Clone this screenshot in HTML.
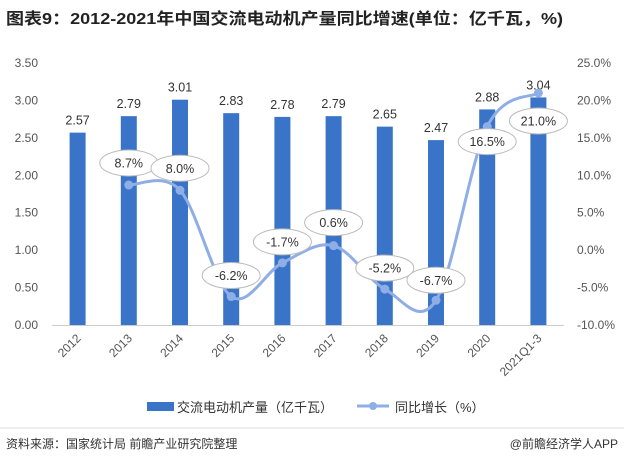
<!DOCTYPE html>
<html><head><meta charset="utf-8"><style>
body{margin:0;background:#fff;font-family:"Liberation Sans","Noto Sans CJK SC",sans-serif;}
#wrap{position:relative;width:624px;height:465px;overflow:hidden;}
</style></head><body>
<div id="wrap">
<svg id="svg" width="624" height="465" xmlns="http://www.w3.org/2000/svg">
<text x="6" y="24" font-size="16" font-weight="bold" fill="#222" textLength="557" lengthAdjust="spacingAndGlyphs" font-family="Liberation Sans,Noto Sans CJK SC,sans-serif">图表9：2012-2021年中国交流电动机产量同比增速(单位：亿千瓦，%)</text>
<g id="plot"></g>
<g>
<rect x="147" y="402" width="27" height="9" fill="#3A74C9"/>
<text x="177" y="412" font-size="13" fill="#333">交流电动机产量（亿千瓦）</text>
<line x1="357" y1="406" x2="389" y2="406" stroke="#8FAEE6" stroke-width="3"/>
<circle cx="373" cy="406" r="4" fill="#8FAEE6"/>
<text x="395" y="412" font-size="13" fill="#333">同比增长（%）</text>
</g>
<line x1="0" y1="428" x2="624" y2="428" stroke="#ddd"/>
<text x="6" y="448" font-size="12" fill="#333">资料来源：国家统计局 前瞻产业研究院整理</text>
<text x="618" y="448" font-size="12" fill="#333" text-anchor="end">@前瞻经济学人APP</text>
</svg>
</div>
<script>
const categories=["2012","2013","2014","2015","2016","2017","2018","2019","2020","2021Q1-3"];
const production=[2.57,2.79,3.01,2.83,2.78,2.79,2.65,2.47,2.88,3.04];
const growth=[null,8.7,8.0,-6.2,-1.7,0.6,-5.2,-6.7,16.5,21.0];
const leftTicks=[0,0.5,1,1.5,2,2.5,3,3.5];
const rightTicks=[-10,-5,0,5,10,15,20,25];
const labelOffsets=[0,-22,-22,-21,-21,-23,-21,-20,15,28];
const NS="http://www.w3.org/2000/svg";
const g=document.getElementById('plot');
const X0=52,X1=564,Y0=325,Y1=63;
const bw=(X1-X0)/categories.length;
const xc=i=>X0+bw*(i+0.5);
const yL=v=>Y0-(v-0)/(3.5-0)*(Y0-Y1);
const yR=v=>Y0-(v+10)/35*(Y0-Y1);
function el(t,a,txt){const e=document.createElementNS(NS,t);for(const k in a)e.setAttribute(k,a[k]);if(txt!=null)e.textContent=txt;g.appendChild(e);return e;}
leftTicks.forEach(v=>{const e=el('text',{x:38,y:yL(v)+4,'font-size':12,fill:'#555','text-anchor':'end'},v.toFixed(2));

});
rightTicks.forEach(v=>{const e=el('text',{x:577,y:yR(v)+4,'font-size':12,fill:'#555'},v.toFixed(1)+'%');

});
production.forEach((v,i)=>{const r=el('rect',{x:xc(i)-8,y:yL(v),width:16,height:Y0-yL(v),fill:'#3A74C9'});


const t=el('text',{x:xc(i),y:yL(v)-8,'font-size':12.5,fill:'#333','text-anchor':'middle'},v.toFixed(2));

});
const ax=el('line',{x1:X0,y1:Y0+0.5,x2:X1,y2:Y0+0.5,stroke:'#ccc'});


categories.forEach((c,i)=>{const t=el('text',{x:0,y:0,'font-size':12,fill:'#555','text-anchor':'end',transform:`translate(${xc(i)+4},${Y0+14}) rotate(-45)`},c);

});
const pts=[];growth.forEach((v,i)=>{if(v!=null)pts.push([xc(i),yR(v),i,v]);});
let d=`M${pts[0][0]},${pts[0][1]}`;
for(let k=0;k<pts.length-1;k++){const p0=pts[Math.max(0,k-1)],p1=pts[k],p2=pts[k+1],p3=pts[Math.min(pts.length-1,k+2)];
const c1=[p1[0]+(p2[0]-p0[0])/6,p1[1]+(p2[1]-p0[1])/6],c2=[p2[0]-(p3[0]-p1[0])/6,p2[1]-(p3[1]-p1[1])/6];
d+=` C${c1[0]},${c1[1]} ${c2[0]},${c2[1]} ${p2[0]},${p2[1]}`;}
const ln=el('path',{d:d,fill:'none',stroke:'#8FAEE6','stroke-width':3});


pts.forEach(p=>{const c=el('circle',{cx:p[0],cy:p[1],r:4.5,fill:'#8FAEE6'});

});
pts.forEach(p=>{const cy=p[1]+labelOffsets[p[2]];
const e=el('ellipse',{cx:p[0],cy:cy,rx:29,ry:13,fill:'#fff',stroke:'#bbb'});


const t=el('text',{x:p[0],y:cy+4.5,'font-size':12.5,fill:'#333','text-anchor':'middle'},p[3].toFixed(1)+'%');

});
</script>
</body></html>
